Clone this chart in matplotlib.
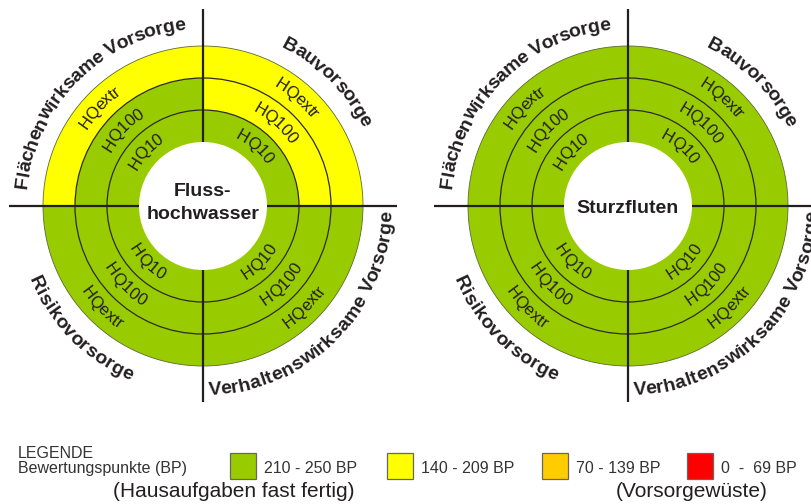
import matplotlib
matplotlib.use("Agg")
import matplotlib.pyplot as plt
from matplotlib.patches import Circle, Rectangle
from matplotlib.font_manager import FontProperties
import numpy as np

# ---------------- data ----------------
quadrants = ["Flächenwirksame Vorsorge", "Bauvorsorge",
             "Verhaltenswirksame Vorsorge", "Risikovorsorge"]
ring_names = ["HQ10", "HQ100", "HQextr"]
level_labels = ["210 - 250 BP", "140 - 209 BP", "70 - 139 BP", "0  -  69 BP"]
level_colors = ["#99CC00", "#FFFF00", "#FFCC00", "#FF0000"]
# rating level (index into level_labels) per ring (HQ10, HQ100, HQextr) and quadrant
fluss_levels = [[0, 0, 0, 0],
                [0, 1, 0, 0],
                [1, 1, 0, 0]]
sturz_levels = [[0, 0, 0, 0],
                [0, 0, 0, 0],
                [0, 0, 0, 0]]
chart_titles = [["Fluss-", "hochwasser"], ["Sturzfluten"]]
legend_title = "LEGENDE"
legend_subtitle = "Bewertungspunkte (BP)"
legend_notes = ["(Hausaufgaben fast fertig)", "(Vorsorgewüste)"]

# ---------------- layout / style ----------------
W, H = 812, 504
FONT = "Liberation Sans"
DARK = "#231f20"
HOLE, RING_W = 64, 32
centers = [(203, H - 206), (628, H - 206)]
quad_label_angles = [135, 45, 315, 225]
quad_outward = [True, True, False, False]
hq_angles = [136.5, 49, 315, 225]

fig = plt.figure(figsize=(W / 100, H / 100), dpi=100)
ax = fig.add_axes([0, 0, 1, 1])
ax.axis("off")
renderer = fig.canvas.get_renderer()


def tw(s, prop):
    w, h, d = renderer.get_text_width_height_descent(s, prop, ismath=False)
    return w


def curved_text(cx, cy, r_base, ang_c, text, prop, outward, color=DARK, z=6):
    ref = tw("H", prop)
    starts = [tw(text[:i] + "H", prop) - ref for i in range(len(text) + 1)]
    total = starts[-1]
    em = prop.get_size_in_points() * 100 / 72
    r_mid = r_base + 0.33 * em if outward else r_base - 0.33 * em
    for i, ch in enumerate(text):
        if ch == " ":
            continue
        mid = (starts[i] + starts[i + 1]) / 2 - total / 2
        dang = np.degrees(mid / r_mid)
        if outward:
            a = ang_c - dang
            rot = a - 90
        else:
            a = ang_c + dang
            rot = a + 90
        x = cx + r_base * np.cos(np.radians(a))
        y = cy + r_base * np.sin(np.radians(a))
        ax.text(x, y, ch, fontproperties=prop, rotation=rot,
                rotation_mode="anchor", ha="center", va="baseline",
                color=color, zorder=z)


outer_prop = FontProperties(family=FONT, weight="bold", size=14)
hq_prop = FontProperties(family=FONT, size=12)
title_prop = FontProperties(family=FONT, weight="bold", size=14)

for (cx, cy), levels, title in zip(centers, [fluss_levels, sturz_levels], chart_titles):
    for k, row in enumerate(levels):
        r_out = HOLE + (k + 1) * RING_W
        ax.pie(np.ones(len(row)), radius=r_out, center=(cx, cy), startangle=180,
               counterclock=False, colors=[level_colors[v] for v in row],
               wedgeprops=dict(width=RING_W, linewidth=0))
    for k in range(1, len(ring_names)):
        ax.add_patch(Circle((cx, cy), HOLE + k * RING_W, fill=False,
                            ec="#2a2a2a", lw=0.9, zorder=3))
    ax.add_patch(Circle((cx, cy), HOLE + len(ring_names) * RING_W, fill=False,
                        ec="#5a6a30", lw=0.6, zorder=3))
    # cross lines (interrupted by the white centre)
    right_ext = min(194, W - cx)
    for (x0, x1, y0, y1) in [(cx, cx, cy + HOLE, cy + 197),
                             (cx, cx, cy - 196, cy - HOLE),
                             (cx - 194, cx - HOLE, cy, cy),
                             (cx + HOLE, cx + right_ext, cy, cy)]:
        ax.plot([x0, x1], [y0, y1], color=DARK, lw=1.6, zorder=4,
                solid_capstyle="butt")
    # quadrant labels
    for q, name in enumerate(quadrants):
        out = quad_outward[q]
        curved_text(cx, cy, 177 if out else 189, quad_label_angles[q], name,
                    outer_prop, out)
        for k, hq in enumerate(ring_names):
            rm = HOLE + (k + 0.5) * RING_W
            curved_text(cx, cy, rm - 5 if out else rm + 5, hq_angles[q], hq,
                        hq_prop, out)
    # centre title
    if len(title) == 2:
        ys = [H - 196, H - 219]
    else:
        ys = [H - 213]
    for line, y in zip(title, ys):
        ax.text(cx, y, line, fontproperties=title_prop, ha="center",
                va="baseline", color=DARK, zorder=6)

# ---------------- legend ----------------
small = FontProperties(family=FONT, size=11.5)
big = FontProperties(family=FONT, size=15)
LG = "#333333"
ax.text(18, H - 458, legend_title, fontproperties=small, color=LG, va="baseline")
ax.text(18, H - 473, legend_subtitle, fontproperties=small, color=LG, va="baseline")
box_x = [230, 387, 542, 687]
for bx, lab, col in zip(box_x, level_labels, level_colors):
    ax.add_patch(Rectangle((bx, H - 479), 26, 26, fc=col, ec="#666666", lw=0.9))
    ax.text(bx + 34, H - 473, lab, fontproperties=small, color=LG, va="baseline")
ax.text(234, H - 497, legend_notes[0], fontproperties=big, color=DARK,
        ha="center", va="baseline")
ax.text(692, H - 497, legend_notes[1], fontproperties=big, color=DARK,
        ha="center", va="baseline")

ax.set_xlim(0, W)
ax.set_ylim(0, H)
ax.set_aspect("auto")
fig.savefig("out.png", dpi=100)
